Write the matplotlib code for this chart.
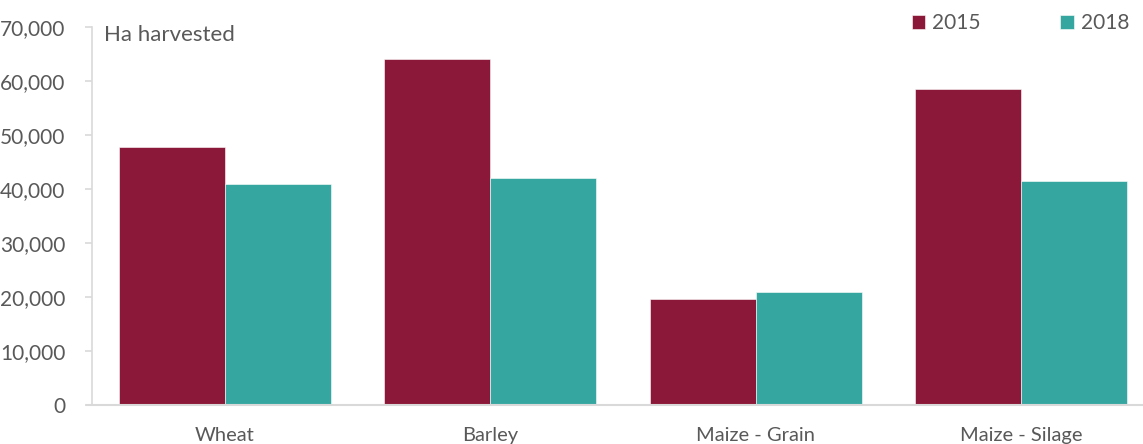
import matplotlib.pyplot as plt
import numpy as np

# Data
crops = ["Wheat", "Barley", "Maize - Grain", "Maize - Silage"]
ha_2015 = [47700, 64100, 19600, 58500]
ha_2018 = [40900, 42000, 20900, 41500]

c2015 = "#8B1838"
c2018 = "#36A7A0"
text_col = "#595959"
axis_col = "#D9D9D9"

plt.rcParams["font.family"] = ["Lato", "DejaVu Sans"]

fig = plt.figure(figsize=(11.43, 4.44), dpi=100)
ax = fig.add_axes([92 / 1143, 39 / 444, (1143 - 92) / 1143, 378 / 444])

x = np.arange(len(crops))
w = 0.4
ax.bar(x - w / 2, ha_2015, w, color=c2015, edgecolor="white", linewidth=0.4, label="2015")
ax.bar(x + w / 2, ha_2018, w, color=c2018, edgecolor="white", linewidth=0.4, label="2018")

ax.set_ylim(0, 70000)
ax.set_xlim(-0.5, 3.5 - 11 / 265.5)
ax.set_yticks(range(0, 70001, 10000))
ax.set_yticklabels([f"{v:,}" for v in range(0, 70001, 10000)])
ax.set_xticks(x)
ax.set_xticklabels(crops)

for s in ["top", "right"]:
    ax.spines[s].set_visible(False)
ax.spines["left"].set_color(axis_col)
ax.spines["bottom"].set_color(axis_col)
ax.spines["left"].set_linewidth(1.2)
ax.spines["bottom"].set_linewidth(1.5)
ax.spines["bottom"].set_bounds(-0.5 - 5 / 265.5, 3.5)

ax.tick_params(axis="y", colors=axis_col, labelcolor=text_col, labelsize=15,
               length=5, width=1.2, pad=14)
ax.tick_params(axis="x", length=0, labelcolor=text_col, labelsize=14.5, pad=16)

fig.text(104 / 1143, 1 - 35 / 444, "Ha harvested",
         fontsize=16, color=text_col, va="center", ha="left")

fig.legend(loc="upper right", bbox_to_anchor=(1146 / 1143, 1.008), ncol=2,
           frameon=False, fontsize=15, handlelength=0.65, handleheight=0.65,
           handletextpad=0.35, columnspacing=3.8, labelcolor=text_col,
           borderaxespad=0.4)

fig.savefig("out.png", dpi=100)
